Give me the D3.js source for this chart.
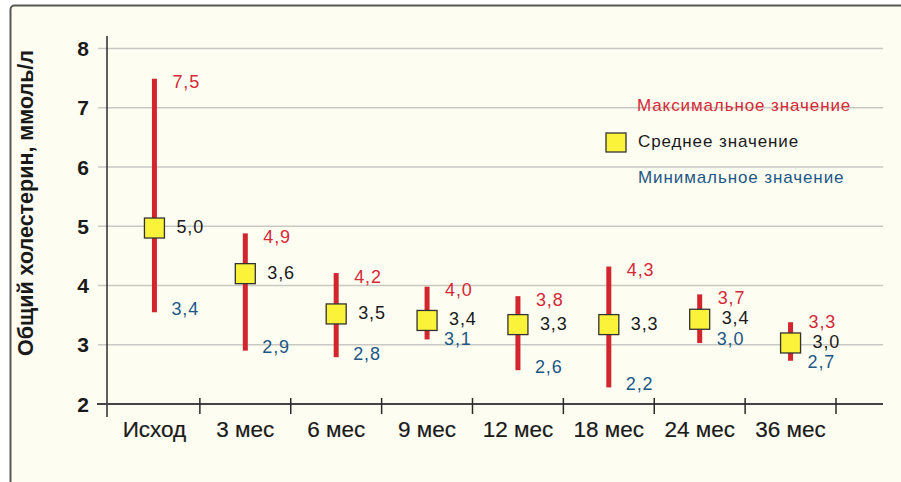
<!DOCTYPE html>
<html><head><meta charset="utf-8">
<script src="https://cdn.jsdelivr.net/npm/d3@7"></script>
<style>
html,body{margin:0;padding:0;background:#fff;}
svg{display:block;font-family:"Liberation Sans",Arial,sans-serif;}
</style></head>
<body><svg id="c" width="901" height="482"></svg>
<script>
// ---- data ----
const categories = ["Исход","3 мес","6 мес","9 мес","12 мес","18 мес","24 мес","36 мес"];
// plotted positions (as drawn)
const maxValues  = [7.49, 4.88, 4.21, 3.98, 3.82, 4.32, 3.85, 3.38];
const meanValues = [4.97, 4.20, 3.52, 3.41, 3.34, 3.34, 3.43, 3.03];
const minValues  = [3.55, 2.90, 2.79, 3.09, 2.57, 2.28, 3.03, 2.73];
// printed labels
const maxLabels  = ["7,5","4,9","4,2","4,0","3,8","4,3","3,7","3,3"];
const meanLabels = ["5,0","3,6","3,5","3,4","3,3","3,3","3,4","3,0"];
const minLabels  = ["3,4","2,9","2,8","3,1","2,6","2,2","3,0","2,7"];
const yTicks = [2,3,4,5,6,7,8];
const yTitle = "Общий холестерин, ммоль/л";
const legendLabels = ["Максимальное значение","Среднее значение","Минимальное значение"];

const RED="#d3252e", REDTXT="#d42a38", BLUE="#1d5787", BG="#fdfdf1";

const svg = d3.select("#c");
// frame
svg.append("rect").attr("x",10.5).attr("y",5.5).attr("width",900).attr("height",490)
  .attr("rx",4).attr("fill",BG).attr("stroke","#595959").attr("stroke-width",2);

const y = d3.scaleLinear().domain([2,8]).range([404,48.5]);
const x = d3.scaleBand().domain(categories).range([109,836]).padding(0);
const cx = c => x(c) + x.bandwidth()/2;

// gridlines
svg.append("g").selectAll("line").data(yTicks.filter(t=>t>2)).join("line")
  .attr("x1",98).attr("x2",883).attr("y1",d=>y(d)).attr("y2",d=>y(d))
  .attr("stroke","#c9c9c4").attr("stroke-width",1.5);

// y tick labels
svg.append("g").selectAll("text").data(yTicks).join("text")
  .attr("x",89).attr("y",d=>y(d)).attr("dy","0.36em").attr("text-anchor","end")
  .attr("font-size",21).attr("font-weight","bold").attr("fill","#1a1a1a").text(d=>d);

// y axis line
svg.append("line").attr("x1",107).attr("x2",107).attr("y1",36).attr("y2",417)
  .attr("stroke","#2a2a2a").attr("stroke-width",1.5);
// x axis line
svg.append("line").attr("x1",97).attr("x2",883).attr("y1",y(2)).attr("y2",y(2))
  .attr("stroke","#444").attr("stroke-width",2);
// x ticks at band boundaries
svg.append("g").selectAll("line").data(categories).join("line")
  .attr("x1",d=>x(d)+x.bandwidth()).attr("x2",d=>x(d)+x.bandwidth())
  .attr("y1",y(2)-6).attr("y2",y(2)+10).attr("stroke","#2a2a2a").attr("stroke-width",1.5);
// x labels
svg.append("g").selectAll("text").data(categories).join("text")
  .attr("x",d=>cx(d)).attr("y",437).attr("text-anchor","middle")
  .attr("font-size",22.5).attr("fill","#1a1a1a").attr("stroke","#1a1a1a").attr("stroke-width",0.2)
  .text(d=>d);

// y title
svg.append("text").attr("transform","translate(33,203) rotate(-90)")
  .attr("text-anchor","middle").attr("font-size",21.5).attr("font-weight","bold")
  .attr("fill","#1a1a1a").text(yTitle);

// range bars
const g = svg.append("g");
g.selectAll("line.rng").data(categories).join("line").attr("class","rng")
  .attr("x1",(d)=>cx(d)).attr("x2",d=>cx(d))
  .attr("y1",(d,i)=>y(maxValues[i])).attr("y2",(d,i)=>y(minValues[i]))
  .attr("stroke",RED).attr("stroke-width",5);
// mean squares
g.selectAll("rect.mean").data(categories).join("rect").attr("class","mean")
  .attr("x",d=>cx(d)-10).attr("y",(d,i)=>y(meanValues[i])-10)
  .attr("width",20).attr("height",20).attr("fill","#fbf23a")
  .attr("stroke","#333").attr("stroke-width",1.3);

const lblFont = 18;
const meanLblY = i => y(meanValues[i]) - 1.5;
const maxLblY = i => Math.min(y(maxValues[i]) + 3, meanLblY(i) - 20);
const minLblY = i => Math.max(y(minValues[i]) - 4, meanLblY(i) + 20);
g.selectAll("text.max").data(categories).join("text").attr("class","max")
  .attr("x",d=>cx(d)+18).attr("y",(d,i)=>maxLblY(i)).attr("dy","0.36em")
  .attr("font-size",lblFont).attr("letter-spacing",0.9).attr("fill",REDTXT).text((d,i)=>maxLabels[i]);
g.selectAll("text.meanl").data(categories).join("text").attr("class","meanl")
  .attr("x",d=>cx(d)+22).attr("y",(d,i)=>meanLblY(i)).attr("dy","0.36em")
  .attr("font-size",lblFont).attr("letter-spacing",0.9).attr("fill","#1a1a1a").text((d,i)=>meanLabels[i]);
g.selectAll("text.min").data(categories).join("text").attr("class","min")
  .attr("x",d=>cx(d)+17).attr("y",(d,i)=>minLblY(i)).attr("dy","0.36em")
  .attr("font-size",lblFont).attr("letter-spacing",0.9).attr("fill",BLUE).text((d,i)=>minLabels[i]);

// legend
const lg = svg.append("g");
lg.append("text").attr("x",637).attr("y",111).attr("font-size",17).attr("letter-spacing",0.9)
  .attr("fill",REDTXT).text(legendLabels[0]);
lg.append("rect").attr("x",606).attr("y",133).attr("width",20).attr("height",19)
  .attr("fill","#fbf23a").attr("stroke","#333").attr("stroke-width",1.3);
lg.append("text").attr("x",638).attr("y",147).attr("font-size",17).attr("letter-spacing",0.9)
  .attr("fill","#1a1a1a").text(legendLabels[1]);
lg.append("text").attr("x",638).attr("y",183).attr("font-size",17).attr("letter-spacing",0.9)
  .attr("fill",BLUE).text(legendLabels[2]);
</script></body></html>
